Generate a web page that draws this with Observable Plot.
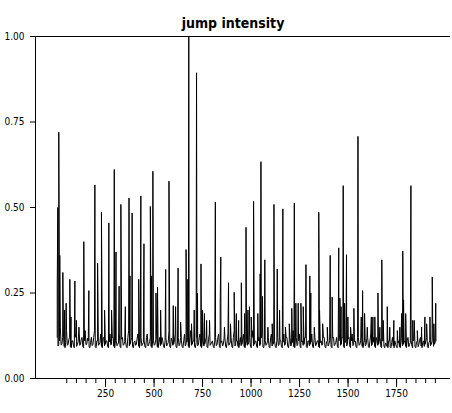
<!DOCTYPE html>
<html>
<head>
<meta charset="utf-8">
<script src="https://cdn.jsdelivr.net/npm/d3@7"></script>
<script src="https://cdn.jsdelivr.net/npm/@observablehq/plot@0.6"></script>
<style>
  html, body { margin: 0; padding: 0; background: #fff; }
  svg text { font-family: 'Liberation Sans Narrow', 'DejaVu Sans', sans-serif; font-stretch: condensed; }
</style>
</head>
<body>
<div id="chart"></div>
<script>
const chartTitle = "jump intensity";

// Low-level band of the series (read at every 8th observation)
const bandStart = 1;
const bandStep = 8;
const bandV = [
  0.12,0.10,0.15,0.10,0.13,0.09,0.14,0.10,0.12,0.09,
  0.11,0.09,0.13,0.10,0.15,0.10,0.12,0.09,0.14,0.10,
  0.11,0.09,0.12,0.10,0.14,0.09,0.11,0.10,0.13,0.09,
  0.12,0.10,0.11,0.09,0.13,0.10,0.12,0.09,0.11,0.10,
  0.13,0.09,0.12,0.10,0.11,0.09,0.14,0.10,0.12,0.09,
  0.11,0.10,0.13,0.09,0.12,0.10,0.11,0.09,0.13,0.10,
  0.12,0.09,0.11,0.10,0.13,0.09,0.12,0.10,0.11,0.09,
  0.12,0.10,0.14,0.09,0.11,0.10,0.13,0.09,0.12,0.10,
  0.11,0.09,0.13,0.10,0.12,0.09,0.14,0.10,0.11,0.09,
  0.12,0.10,0.13,0.09,0.11,0.10,0.12,0.09,0.13,0.10,
  0.11,0.09,0.12,0.10,0.13,0.09,0.11,0.10,0.12,0.09,
  0.13,0.10,0.12,0.09,0.14,0.10,0.11,0.09,0.12,0.10,
  0.13,0.09,0.11,0.10,0.12,0.09,0.14,0.10,0.11,0.09,
  0.12,0.10,0.13,0.09,0.11,0.10,0.12,0.09,0.13,0.10,
  0.11,0.09,0.12,0.10,0.11,0.09,0.13,0.10,0.12,0.09,
  0.12,0.10,0.14,0.09,0.12,0.10,0.13,0.09,0.11,0.10,
  0.12,0.09,0.11,0.10,0.13,0.09,0.12,0.10,0.11,0.09,
  0.11,0.10,0.12,0.09,0.11,0.10,0.13,0.09,0.12,0.10,
  0.12,0.09,0.13,0.10,0.12,0.09,0.11,0.10,0.12,0.09,
  0.13,0.10,0.11,0.09,0.12,0.10,0.13,0.09,0.11,0.10,
  0.12,0.09,0.13,0.10,0.12,0.09,0.11,0.10,0.12,0.09,
  0.11,0.09,0.10,0.09,0.11,0.09,0.12,0.09,0.10,0.09,
  0.11,0.09,0.12,0.10,0.11,0.09,0.12,0.10,0.11,0.09,
  0.12,0.09,0.11,0.10,0.12,0.09,0.11,0.10,0.12,0.09,
  0.11,0.10,0.12,0.10,0.11
];

// Band values read between the above (observations 5, 13, 21, ...)
const bandMidStart = 5;
const bandMidV = [
  0.095,0.11,0.098,0.12,0.094,0.105,0.097,0.115,0.093,0.11,
  0.096,0.12,0.094,0.108,0.097,0.115,0.093,0.11,0.099,0.118,
  0.094,0.106,0.096,0.12,0.093,0.11,0.097,0.105,0.094,0.118,
  0.096,0.11,0.093,0.107,0.098,0.12,0.094,0.11,0.096,0.104,
  0.093,0.115,0.097,0.108,0.094,0.12,0.095,0.11,0.093,0.106,
  0.097,0.118,0.094,0.11,0.096,0.105,0.093,0.12,0.095,0.108,
  0.094,0.11,0.097,0.115,0.093,0.106,0.096,0.12,0.094,0.11,
  0.095,0.105,0.093,0.118,0.097,0.11,0.094,0.107,0.096,0.12,
  0.093,0.11,0.095,0.106,0.094,0.118,0.097,0.11,0.093,0.105,
  0.096,0.12,0.094,0.108,0.095,0.11,0.093,0.115,0.097,0.106,
  0.094,0.11,0.096,0.12,0.093,0.105,0.095,0.118,0.094,0.11,
  0.097,0.107,0.093,0.12,0.095,0.11,0.094,0.105,0.096,0.115,
  0.093,0.11,0.097,0.106,0.094,0.12,0.095,0.108,0.093,0.11,
  0.096,0.118,0.094,0.105,0.097,0.11,0.093,0.12,0.095,0.107,
  0.094,0.11,0.096,0.115,0.093,0.106,0.097,0.12,0.094,0.11,
  0.095,0.105,0.093,0.118,0.096,0.11,0.094,0.107,0.097,0.12,
  0.093,0.11,0.095,0.106,0.094,0.115,0.096,0.11,0.093,0.105,
  0.097,0.12,0.094,0.108,0.095,0.11,0.093,0.118,0.096,0.106,
  0.094,0.11,0.097,0.12,0.093,0.105,0.095,0.115,0.094,0.11,
  0.096,0.107,0.093,0.12,0.097,0.11,0.094,0.105,0.095,0.118,
  0.093,0.11,0.096,0.106,0.094,0.12,0.097,0.108,0.093,0.11,
  0.095,0.104,0.094,0.11,0.093,0.105,0.096,0.11,0.094,0.104,
  0.093,0.11,0.095,0.106,0.094,0.112,0.093,0.105,0.096,0.11,
  0.094,0.106,0.093,0.112,0.095,0.105,0.094,0.11,0.093,0.106,
  0.096,0.11,0.094,0.105
];

// Spikes: observation index and intensity
const spikeT = [
  1,4,9,14,30,39,47,66,72,92,100,138,164,195,209,229,245,267,281,295,
  304,320,329,352,371,376,387,421,432,448,481,486,494,510,518,534,560,577,599,611,
  624,637,665,674,679,693,707,719,724,742,750,760,771,786,816,841,844,863,884,894,
  913,924,936,950,967,974,984,992,1001,1013,1035,1047,1051,1059,1071,1087,1109,1118,1135,1147,
  1164,1177,1197,1210,1223,1231,1243,1257,1269,1283,1303,1308,1326,1349,1353,1369,1393,1408,1418,1452,
  1458,1464,1475,1482,1492,1499,1513,1530,1551,1568,1575,1585,1599,1620,1628,1638,1654,1664,1674,1681,
  1702,1715,1736,1754,1767,1776,1782,1786,1797,1824,1833,1841,1857,1879,1896,1905,1922,1934,1942,1952
];
const spikeV = [
  0.27,0.50,0.72,0.36,0.31,0.20,0.22,0.29,0.18,0.285,0.17,0.40,0.257,0.566,0.337,0.486,0.20,0.455,0.20,0.611,
  0.37,0.27,0.509,0.21,0.528,0.30,0.484,0.29,0.534,0.394,0.503,0.30,0.606,0.25,0.267,0.20,0.319,0.577,0.213,0.21,
  0.323,0.165,0.377,0.29,0.998,0.16,0.20,0.894,0.25,0.335,0.20,0.19,0.17,0.17,0.516,0.22,0.355,0.15,0.28,0.16,
  0.252,0.19,0.17,0.28,0.19,0.442,0.20,0.21,0.18,0.518,0.19,0.306,0.634,0.24,0.347,0.15,0.16,0.509,0.32,0.20,
  0.496,0.15,0.16,0.205,0.513,0.22,0.22,0.22,0.21,0.333,0.30,0.25,0.15,0.486,0.20,0.16,0.15,0.36,0.238,0.382,
  0.235,0.21,0.564,0.22,0.362,0.18,0.15,0.205,0.708,0.18,0.257,0.19,0.15,0.18,0.18,0.18,0.25,0.15,0.347,0.17,
  0.21,0.15,0.17,0.14,0.15,0.19,0.373,0.23,0.19,0.564,0.17,0.17,0.14,0.15,0.18,0.16,0.18,0.297,0.16,0.22
];

const xMinorTicks = d3.range(50, 2000, 50);
const xMajorTicks = [250, 500, 750, 1000, 1250, 1500, 1750];
const yTicks = [0, 0.25, 0.5, 0.75, 1];
const xDomain = [-111, 2028];

const band = bandV.map((v, i) => ({t: bandStart + i * bandStep, v}));
const bandMid = bandMidV.map((v, i) => ({t: bandMidStart + i * bandStep, v}));
const spikes = spikeT.map((t, i) => ({t, v: spikeV[i]}));
const series = [...band, ...bandMid, ...spikes].sort((a, b) => a.t - b.t);

const chart = Plot.plot({
  width: 452,
  height: 413,
  marginLeft: 35,
  marginRight: 2,
  marginTop: 36,
  marginBottom: 35,
  style: {fontSize: "10px", color: "black", background: "white"},
  x: {domain: xDomain, axis: null},
  y: {domain: [0, 1], axis: null},
  marks: [
    Plot.axisX({ticks: xMinorTicks, tickSize: 5, tickFormat: () => "", stroke: "black", label: null}),
    Plot.axisX({ticks: xMajorTicks, tickSize: 9, tickPadding: 2, tickFormat: d => String(d), stroke: "black", fill: "black", fontSize: 10, label: null}),
    Plot.axisY({ticks: yTicks, tickSize: 5, tickPadding: 6, tickFormat: d3.format(".2f"), stroke: "black", fill: "black", fontSize: 10, label: null}),
    Plot.ruleY([0, 1], {stroke: "black", strokeWidth: 1}),
    Plot.ruleX([xDomain[0]], {y1: 0, y2: 1, stroke: "black", strokeWidth: 1}),
    Plot.line(series, {x: "t", y: "v", stroke: "black", strokeWidth: 1}),
    Plot.text([chartTitle], {frameAnchor: "top", dx: -10, dy: -18, text: d => d, fontWeight: "bold", fontSize: 14, fill: "black"})
  ]
});
document.getElementById("chart").appendChild(chart);
</script>
</body>
</html>
